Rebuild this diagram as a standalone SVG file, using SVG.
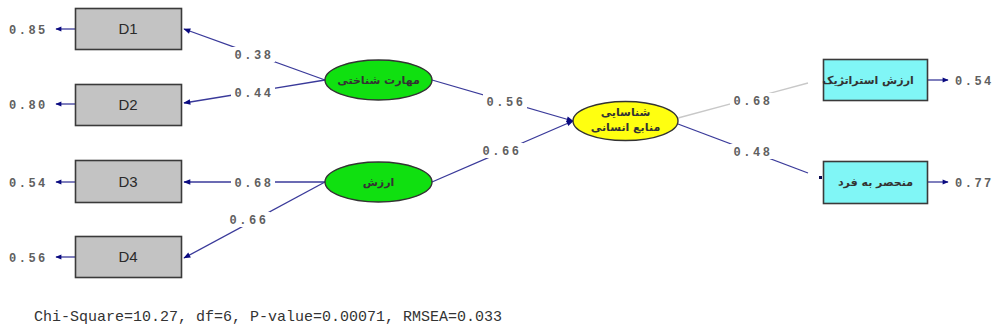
<svg xmlns="http://www.w3.org/2000/svg" width="995" height="332" viewBox="0 0 995 332">
  <defs>
    <marker id="head" viewBox="0 0 10 10" refX="9" refY="5" markerWidth="8" markerHeight="7" markerUnits="userSpaceOnUse" orient="auto">
      <path d="M0,1 L10,5 L0,9 Z" fill="#0a0a80"/>
    </marker>
    <marker id="errhead" viewBox="0 0 10 10" refX="9" refY="5" markerWidth="9" markerHeight="6" markerUnits="userSpaceOnUse" orient="auto">
      <path d="M0,1 L10,5 L0,9 Z" fill="#0a0a80"/>
    </marker>
  </defs>
  <style>
    .obs { fill: #c3c3c3; stroke: #3a3a3a; stroke-width: 1.6; }
    .obs2 { fill: #80f6f6; stroke: #3a3a3a; stroke-width: 1.6; }
    .lat { fill: #10e010; stroke: #333; stroke-width: 1.4; }
    .latY { fill: #ffff10; stroke: #333; stroke-width: 1.4; }
    .name { font-family: "Liberation Sans", Arial, sans-serif; font-size: 15px; fill: #2a2a2a; text-anchor: middle; }
    .fa { font-family: "DejaVu Sans", "Noto Sans", sans-serif; font-size: 11px; font-weight: bold; fill: #333; text-anchor: middle; }
    .path { stroke: #3a3a9a; stroke-width: 1.3; fill: none; }
    .pale { stroke: #c8c8c8; stroke-width: 1.3; fill: none; }
    .coef { font-family: "Liberation Mono", "Courier New", monospace; font-size: 12px; font-weight: bold; fill: #606060; letter-spacing: 2.5px; text-anchor: middle; }
    .err { font-family: "Liberation Mono", "Courier New", monospace; font-size: 12px; font-weight: bold; fill: #606060; letter-spacing: 2.5px; }
    .bg { fill: #fff; }
    .fit { font-family: "Liberation Mono", "Courier New", monospace; font-size: 15px; fill: #333; }
  </style>

  <rect width="995" height="332" fill="#fff"/>

  <!-- structural and measurement paths -->
  <g id="connectors">
    <line class="path" x1="325" y1="80" x2="184" y2="29" marker-end="url(#head)"/>
    <line class="path" x1="325" y1="80" x2="184" y2="103" marker-end="url(#head)"/>
    <line class="path" x1="325" y1="182" x2="184" y2="182" marker-end="url(#head)"/>
    <line class="path" x1="325" y1="182" x2="184" y2="258" marker-end="url(#head)"/>
    <line class="path" x1="432" y1="80" x2="573" y2="121" marker-end="url(#head)"/>
    <line class="path" x1="432" y1="182" x2="573" y2="121" marker-end="url(#head)"/>
    <line class="pale" x1="678" y1="118" x2="808" y2="83"/>
    <line class="path" x1="678" y1="124" x2="808" y2="173"/>
    <rect x="819" y="176" width="3" height="3" fill="#0a0a50"/>

    <!-- error variance arrows -->
    <line class="path" x1="75" y1="29" x2="56" y2="29" marker-end="url(#errhead)"/>
    <line class="path" x1="75" y1="104" x2="56" y2="104" marker-end="url(#errhead)"/>
    <line class="path" x1="75" y1="182" x2="56" y2="182" marker-end="url(#errhead)"/>
    <line class="path" x1="75" y1="257" x2="56" y2="257" marker-end="url(#errhead)"/>
    <line class="path" x1="928" y1="80" x2="948" y2="80" marker-end="url(#errhead)"/>
    <line class="path" x1="928" y1="182" x2="948" y2="182" marker-end="url(#errhead)"/>

    <!-- path coefficients -->
    <rect class="bg" x="231" y="47" width="44" height="15"/>
    <text class="coef" x="254" y="59">0.38</text>
    <rect class="bg" x="231" y="85" width="44" height="15"/>
    <text class="coef" x="254" y="97">0.44</text>
    <rect class="bg" x="231" y="175" width="44" height="15"/>
    <text class="coef" x="254" y="187">0.68</text>
    <rect class="bg" x="226" y="212" width="44" height="15"/>
    <text class="coef" x="249" y="224">0.66</text>
    <rect class="bg" x="483" y="94" width="44" height="15"/>
    <text class="coef" x="506" y="106">0.56</text>
    <rect class="bg" x="479" y="143" width="44" height="15"/>
    <text class="coef" x="502" y="155">0.66</text>
    <rect class="bg" x="730" y="93" width="44" height="15"/>
    <text class="coef" x="753" y="105">0.68</text>
    <rect class="bg" x="730" y="144" width="44" height="15"/>
    <text class="coef" x="753" y="156">0.48</text>

    <!-- error variances -->
    <text class="err" x="9" y="34">0.85</text>
    <text class="err" x="9" y="109">0.80</text>
    <text class="err" x="9" y="187">0.54</text>
    <text class="err" x="9" y="262">0.56</text>
    <text class="err" x="955" y="85">0.54</text>
    <text class="err" x="955" y="187">0.77</text>
  </g>

  <g id="D1">
    <rect class="obs" x="75.5" y="8.5" width="106" height="41"/>
    <text class="name" x="128" y="34">D1</text>
  </g>
  <g id="D2">
    <rect class="obs" x="75.5" y="84.5" width="106" height="41"/>
    <text class="name" x="128" y="110">D2</text>
  </g>
  <g id="D3">
    <rect class="obs" x="75.5" y="160.5" width="106" height="42"/>
    <text class="name" x="128" y="187">D3</text>
  </g>
  <g id="D4">
    <rect class="obs" x="75.5" y="236.5" width="106" height="41"/>
    <text class="name" x="128" y="262">D4</text>
  </g>

  <g id="skill">
    <ellipse class="lat" cx="378.5" cy="80" rx="53.5" ry="20"/>
    <text class="fa" x="378.5" y="84" direction="rtl">مهارت شناختی</text>
  </g>
  <g id="value">
    <ellipse class="lat" cx="378.5" cy="182" rx="53.5" ry="20"/>
    <text class="fa" x="378.5" y="186" direction="rtl">ارزش</text>
  </g>
  <g id="hr">
    <ellipse class="latY" cx="625.5" cy="121" rx="52.5" ry="19.5"/>
    <text class="fa" x="625.5" y="116" direction="rtl">شناسایی</text>
    <text class="fa" x="625.5" y="131" direction="rtl">منابع انسانی</text>
  </g>

  <g id="strategic">
    <rect class="obs2" x="823.5" y="59.5" width="104" height="41"/>
    <text class="fa" x="868" y="84" direction="rtl">ارزش استراتژیک</text>
  </g>
  <g id="unique">
    <rect class="obs2" x="823.5" y="161.5" width="104" height="42"/>
    <text class="fa" x="875.5" y="186" direction="rtl">منحصر به فرد</text>
  </g>

  <text class="fit" x="34" y="321">Chi-Square=10.27, df=6, P-value=0.00071, RMSEA=0.033</text>
</svg>
